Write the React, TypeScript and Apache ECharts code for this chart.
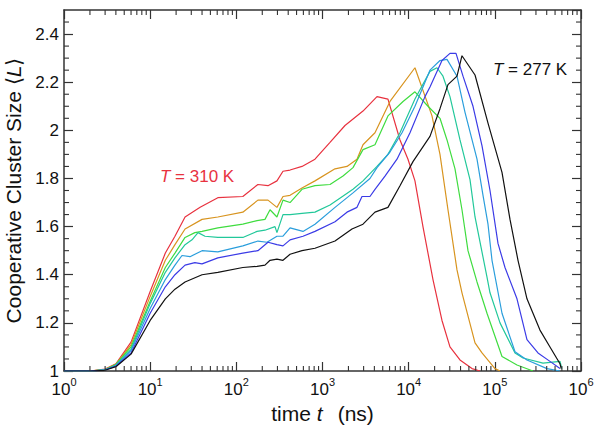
import React, { useEffect, useRef } from "react";
import * as echarts from "echarts";

type Pt = [number, number];

// ---- data (time in ns, cooperative cluster size <L>) ----
const curve310K: Pt[] = [
  [1, 1], [2, 1], [3, 1.008], [4, 1.03], [6, 1.12], [10, 1.33], [15, 1.49], [19.4, 1.56], [25.4, 1.64],
  [38, 1.68], [61, 1.72], [119, 1.725], [178, 1.775], [233, 1.77], [296, 1.79], [348, 1.83], [420, 1.835],
  [578, 1.85], [818, 1.88], [1222, 1.95], [1824, 2.02], [2950, 2.08], [4290, 2.14], [5750, 2.13],
  [7930, 1.96], [9820, 1.88], [11830, 1.79], [14650, 1.6], [19150, 1.38], [24360, 1.21], [30150, 1.1],
  [39400, 1.046], [54300, 1.01], [67300, 1.0],
];
const curveOrange: Pt[] = [
  [1, 1], [2, 1], [3, 1.007], [4, 1.028], [6, 1.11], [10, 1.31], [15, 1.46], [19.4, 1.525], [25.4, 1.59],
  [40, 1.63], [61, 1.64], [119, 1.66], [178, 1.71], [233, 1.71], [296, 1.68], [348, 1.725], [420, 1.73],
  [578, 1.76], [818, 1.79], [1397, 1.84], [1923, 1.85], [2514, 1.88], [2950, 1.94], [4065, 1.99],
  [6070, 2.12], [11830, 2.26], [18650, 2.06], [23090, 1.9], [28590, 1.67], [36380, 1.42], [41570, 1.325],
  [58900, 1.117], [71000, 1.075], [100400, 1.01], [114800, 1.0],
];
const curveGreen: Pt[] = [
  [1, 1], [2, 1], [3, 1.006], [4, 1.027], [6, 1.1], [10, 1.29], [15, 1.43], [19.4, 1.49], [25.4, 1.555],
  [33, 1.575], [40, 1.58], [61, 1.595], [119, 1.61], [174, 1.625], [215, 1.63], [246, 1.67], [296, 1.64],
  [348, 1.71], [420, 1.7], [578, 1.755], [818, 1.77], [1222, 1.775], [1730, 1.81], [2259, 1.845],
  [2950, 1.92], [4065, 1.94], [5750, 2.06], [8600, 2.12], [11830, 2.16], [16750, 2.1], [23090, 2.05],
  [27860, 1.96], [34490, 1.84], [41570, 1.67], [48800, 1.5], [62100, 1.37], [81100, 1.24], [121100, 1.06],
  [180700, 1.025], [277200, 1.0],
];
const curveTeal: Pt[] = [
  [1, 1], [2, 1], [3, 1.005], [4, 1.025], [6, 1.09], [10, 1.28], [15, 1.41], [19.4, 1.47], [25.4, 1.525],
  [30.6, 1.545], [35.9, 1.575], [43.3, 1.56], [61, 1.555], [119, 1.555], [174, 1.58], [215, 1.585],
  [281, 1.6], [296, 1.575], [348, 1.65], [420, 1.65], [578, 1.655], [818, 1.66], [1222, 1.69],
  [2259, 1.755], [2950, 1.79], [4290, 1.85], [5750, 1.9], [7930, 1.99], [11830, 2.13], [17670, 2.245],
  [21310, 2.26], [25020, 2.225], [30150, 2.14], [39430, 1.96], [51500, 1.795], [58900, 1.64],
  [81100, 1.39], [87900, 1.325], [114800, 1.2], [171400, 1.075], [212300, 1.054], [362100, 1.033],
  [570300, 1.04], [600000, 1.01],
];
const curveLightBlue: Pt[] = [
  [1, 1], [2, 1], [3, 1.005], [4, 1.022], [6, 1.085], [10, 1.26], [15, 1.38], [19.4, 1.44], [23.4, 1.48],
  [29, 1.475], [40, 1.5], [61, 1.495], [119, 1.52], [178, 1.54], [227, 1.535], [296, 1.56], [348, 1.56],
  [420, 1.595], [594, 1.58], [818, 1.61], [1397, 1.68], [2259, 1.74], [3556, 1.8], [4290, 1.845],
  [6070, 1.91], [8370, 1.99], [11830, 2.1], [17670, 2.25], [23090, 2.29], [27860, 2.295], [36380, 2.225],
  [45080, 2.075], [62100, 1.88], [72900, 1.73], [83300, 1.61], [92700, 1.46], [121100, 1.24],
  [171400, 1.08], [236000, 1.046], [402800, 1.01], [570300, 1.0],
];
const curveBlue: Pt[] = [
  [1, 1], [2, 1], [3, 1.004], [4, 1.02], [6, 1.075], [10, 1.24], [15, 1.35], [19.4, 1.4], [25.4, 1.44],
  [33, 1.45], [40, 1.445], [61, 1.47], [119, 1.49], [178, 1.5], [233, 1.535], [296, 1.525], [348, 1.52],
  [420, 1.545], [594, 1.56], [818, 1.58], [1397, 1.62], [1923, 1.66], [2514, 1.68], [2873, 1.725],
  [3556, 1.725], [4065, 1.755], [5310, 1.81], [7320, 1.88], [10360, 1.99], [15460, 2.14], [17670, 2.18],
  [24360, 2.29], [30150, 2.32], [35430, 2.32], [42730, 2.225], [55800, 2.1], [71000, 1.935],
  [87900, 1.75], [108800, 1.53], [131200, 1.43], [180700, 1.3], [236000, 1.13], [316800, 1.075],
  [436600, 1.04], [570300, 1.01],
];
const curve277K: Pt[] = [
  [1, 1], [2, 1], [3, 1.003], [4, 1.018], [6, 1.07], [10, 1.21], [15, 1.3], [19.4, 1.34], [25.4, 1.37],
  [40, 1.4], [61, 1.41], [119, 1.43], [174, 1.435], [215, 1.44], [246, 1.46], [296, 1.465], [348, 1.46],
  [420, 1.485], [578, 1.5], [818, 1.51], [1397, 1.54], [2198, 1.59], [2950, 1.61], [4065, 1.66],
  [5750, 1.68], [7930, 1.77], [11220, 1.87], [17670, 1.975], [23090, 2.09], [28590, 2.19], [36380, 2.225],
  [41570, 2.31], [58900, 2.23], [83300, 2.03], [121100, 1.825], [150000, 1.63], [185700, 1.46],
  [236000, 1.3], [334000, 1.17], [436600, 1.1], [570300, 1.03], [590000, 1.01],
];

const curves: Pt[][] = [curve310K, curveOrange, curveGreen, curveTeal, curveLightBlue, curveBlue, curve277K];
const curveNames = ["310 K", "curve 2", "curve 3", "curve 4", "curve 5", "curve 6", "277 K"];
const curveColors = ["#e8323f", "#d8941f", "#3fdc3f", "#22c89a", "#2a9edc", "#3b3be6", "#111111"];

const X_MIN = 1;
const X_MAX = 1e6;
const Y_MIN = 1;
const Y_MAX = 2.5;
const Y_STEP = 0.2;
const xMinorTicks: number[] = [];
for (let k = 0; k < 6; k++) for (let m = 2; m <= 9; m++) xMinorTicks.push(m * Math.pow(10, k));
const yMinorTicks = [1.05, 1.1, 1.15, 1.25, 1.3, 1.35, 1.45, 1.5, 1.55, 1.65, 1.7, 1.75, 1.85, 1.9, 1.95,
  2.05, 2.1, 2.15, 2.25, 2.3, 2.35, 2.45];

const FONT = "'Liberation Sans', Arial, Helvetica, sans-serif";
const AXIS_COLOR = "#333";
const MAJOR = 9;
const MINOR = 5;

function App() {
  const ref = useRef<HTMLDivElement>(null);
  useEffect(() => {
    if (!ref.current) return;
    const chart = echarts.init(ref.current, null, { renderer: "svg" });
    const axisLine = { show: true, onZero: false, lineStyle: { color: AXIS_COLOR, width: 1.5 } };
    const tick = { show: true, inside: true, length: MAJOR, lineStyle: { color: AXIS_COLOR, width: 1.2 } };
    const logAxisBase = {
      type: "log" as const, logBase: 10, min: X_MIN, max: X_MAX,
      axisLine, axisTick: tick, splitLine: { show: false }, minorTick: { show: false },
    };
    const valAxisBase = {
      type: "value" as const, min: Y_MIN, max: Y_MAX, interval: Y_STEP,
      axisLine, axisTick: tick, splitLine: { show: false },
    };
    const tickStyle = { stroke: AXIS_COLOR, lineWidth: 1.1 };
    chart.setOption({
      animation: false,
      backgroundColor: "#fff",
      textStyle: { fontFamily: FONT },
      grid: { left: 64, right: 20, top: 10, bottom: 60, containLabel: false, outerBoundsMode: "none" },
      xAxis: [
        {
          ...logAxisBase,
          position: "bottom",
          axisLabel: {
            margin: 5,
            color: "#111",
            formatter: (v: number) => `{b|10}{s|${Math.round(Math.log10(v))}}`,
            rich: {
              b: { fontSize: 17, lineHeight: 22, verticalAlign: "bottom", fontFamily: FONT, color: "#111" },
              s: { fontSize: 11, lineHeight: 11, verticalAlign: "top", fontFamily: FONT, color: "#111" },
            },
          },
          name: "{n|time}{i|t}{n|(ns)}",
          nameLocation: "middle",
          nameGap: 27,
          nameTextStyle: {
            fontSize: 21, color: "#111", fontFamily: FONT,
            rich: {
              n: { fontSize: 21, color: "#111", fontFamily: FONT },
              i: { fontSize: 21, color: "#111", fontFamily: FONT, fontStyle: "italic", padding: [0, 15, 0, 6] },
            },
          },
        },
        { ...logAxisBase, position: "top", axisLabel: { show: false } },
      ],
      yAxis: [
        {
          ...valAxisBase,
          position: "left",
          axisLabel: {
            margin: 5, fontSize: 17, color: "#111", fontFamily: FONT, showMaxLabel: false,
            formatter: (v: number) => (Math.abs(v - Y_MAX) < 1e-9 ? "" : String(Number(v.toFixed(2)))),
          },
          name: "Cooperative Cluster Size ⟨{i|L}⟩",
          nameLocation: "middle",
          nameGap: 34,
          nameTextStyle: {
            fontSize: 21, color: "#111", fontFamily: FONT,
            rich: { i: { fontSize: 21, color: "#111", fontFamily: FONT, fontStyle: "italic" } },
          },
        },
        { ...valAxisBase, position: "right", axisLabel: { show: false } },
      ],
      series: [
        ...curves.map((d, i) => ({
          type: "line",
          name: curveNames[i],
          data: d,
          xAxisIndex: 0,
          yAxisIndex: 0,
          showSymbol: false,
          symbol: "none",
          lineStyle: { color: curveColors[i], width: 1.2 },
          itemStyle: { color: curveColors[i] },
          z: 3,
        })),
        {
          type: "custom",
          xAxisIndex: 0, yAxisIndex: 0, silent: true, clip: false, z: 4,
          data: xMinorTicks.map((v) => [v, Y_MIN]),
          encode: { x: 0, y: 1 },
          renderItem: (_p: any, api: any) => {
            const v = api.value(0);
            const b = api.coord([v, Y_MIN]);
            const t = api.coord([v, Y_MAX]);
            return {
              type: "group",
              children: [
                { type: "line", shape: { x1: b[0], y1: b[1], x2: b[0], y2: b[1] - MINOR }, style: tickStyle },
                { type: "line", shape: { x1: t[0], y1: t[1], x2: t[0], y2: t[1] + MINOR }, style: tickStyle },
              ],
            };
          },
        },
        {
          type: "custom",
          xAxisIndex: 0, yAxisIndex: 0, silent: true, clip: false, z: 4,
          data: yMinorTicks.map((v) => [X_MIN, v]),
          encode: { x: 0, y: 1 },
          renderItem: (_p: any, api: any) => {
            const v = api.value(1);
            const l = api.coord([X_MIN, v]);
            const r = api.coord([X_MAX, v]);
            return {
              type: "group",
              children: [
                { type: "line", shape: { x1: l[0], y1: l[1], x2: l[0] + MINOR, y2: l[1] }, style: tickStyle },
                { type: "line", shape: { x1: r[0], y1: r[1], x2: r[0] - MINOR, y2: r[1] }, style: tickStyle },
              ],
            };
          },
        },
      ],
      graphic: [
        {
          type: "text", x: 160, y: 176, z: 10,
          style: {
            text: "{i|T} = 310 K", fill: curveColors[0], fontSize: 17, fontFamily: FONT, verticalAlign: "middle",
            rich: { i: { fontStyle: "italic", fontSize: 17, fontFamily: FONT, fill: curveColors[0] } },
          },
        },
        {
          type: "text", x: 493, y: 69, z: 10,
          style: {
            text: "{i|T} = 277 K", fill: "#111", fontSize: 17, fontFamily: FONT, verticalAlign: "middle",
            rich: { i: { fontStyle: "italic", fontSize: 17, fontFamily: FONT, fill: "#111" } },
          },
        },
      ],
    });
    return () => chart.dispose();
  }, []);
  return (
    <div
      ref={ref}
      style={{ position: "fixed", left: 0, top: 0, width: 601, height: 431, background: "#fff" }}
    />
  );
}

export default App;
